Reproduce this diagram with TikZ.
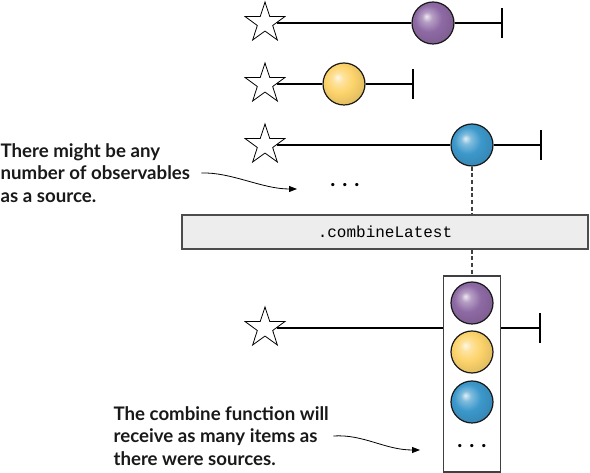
\documentclass[tikz,border=0pt]{standalone}
\usepackage{fontspec}
\setmainfont{Lato}
\newfontfamily\codefont{Liberation Mono}
\usetikzlibrary{arrows.meta, shapes.geometric, positioning}

\definecolor{beadpurple}{RGB}{142,106,164}
\definecolor{beadyellow}{RGB}{253,212,108}
\definecolor{beadblue}{RGB}{60,152,203}
\colorlet{beadcol}{beadblue}
\pgfdeclareradialshading[beadcol]{bead}{\pgfpoint{-8bp}{8bp}}{color(0bp)=(beadcol!15!white); color(6bp)=(beadcol!65!white); color(16bp)=(beadcol); color(30bp)=(beadcol!88!black); color(50bp)=(beadcol!88!black)}

\def\px{0.75pt}
\tikzset{
  srcstar/.style={star, star points=5, star point ratio=2.6, minimum size=42*\px, inner sep=0pt, draw, line width=0.6pt, fill=white},
  bead color/.code={\colorlet{beadcol}{#1}},
  bead/.style={circle, draw=black!90, line width=0.9pt, minimum size=42*\px, inner sep=0pt, shading=bead, bead color=#1},
  endbar/.style={inner sep=0pt, minimum height=28*\px, minimum width=0pt},
  bar/.style={line width=1.2pt},
  link/.style={dashed, dash pattern=on 3pt off 2pt, line width=0.8pt, black!75},
  opbox/.style={draw=black!70, fill=black!7, line width=0.9pt, minimum width=406*\px, minimum height=34*\px},
  collbox/.style={draw=black!75, line width=0.9pt, minimum width=57*\px, minimum height=196*\px, inner sep=0pt},
  dots/.style={font=\fontsize{16}{16}\selectfont\bfseries, inner sep=0pt},
  note/.style={font=\fontsize{14}{17}\selectfont\bfseries, align=left, inner sep=0pt, text=black!90},
  pointer/.style={-{Triangle[length=6pt, width=4.5pt]}, line width=0.6pt}
}

\begin{document}
\begin{tikzpicture}[x=\px, y=-\px, line width=0.9pt]
\useasboundingbox (0,0) rectangle (590,473);
\foreach \n/\y/\bx/\ex/\c in {1/23/433/502/beadpurple, 2/84/344/413/beadyellow, 3/145/472/541/beadblue} {
    \node[srcstar] (s\n) at (265,\y) {};
    \node[bead=\c] (b\n) at (\bx,\y) {};
    \node[endbar] (e\n) at (\ex,\y) {};
    \draw (s\n) -- (b\n) -- (e\n);
    \draw[bar] (e\n.north) -- (e\n.south);
}
\node[dots] (more) at (345,185) {. . .};
\node[opbox] (op) at (385,232) {\codefont\fontsize{12}{14}\selectfont .combineLatest};
\node[collbox] (coll) at (472,374) {};
\draw[link] (b3) -- (b3 |- op.north);
\draw[link] (op.south -| coll) -- (coll);
\node[bead=beadpurple] (c1) at (472,303) {};
\node[bead=beadyellow] (c2) at (472,352) {};
\node[bead=beadblue] (c3) at (472,402) {};
\node[dots] (cmore) at (472,446) {. . .};
\node[srcstar] (s4) at (265,328) {};
\node[endbar] (e4) at (540,328) {};
\draw (s4) -- (s4 -| coll.west);
\draw (s4 -| coll.east) -- (e4);
\draw[bar] (e4.north) -- (e4.south);
\node[note, anchor=west] (note1) at (0,173) {There might be any\\number of observables\\as a source.};
\coordinate (p1) at (297,189);
\draw[pointer] ([xshift=8pt]note1.east) .. controls +(30,-1) and +(-35,0) .. (p1);
\node[note, anchor=west] (note2) at (113,436) {The combine function will\\receive as many items as\\there were sources.};
\coordinate (p2) at (420,450);
\draw[pointer] ([xshift=3pt]note2.east) .. controls +(30,-2) and +(-35,0) .. (p2);
\end{tikzpicture}
\end{document}
